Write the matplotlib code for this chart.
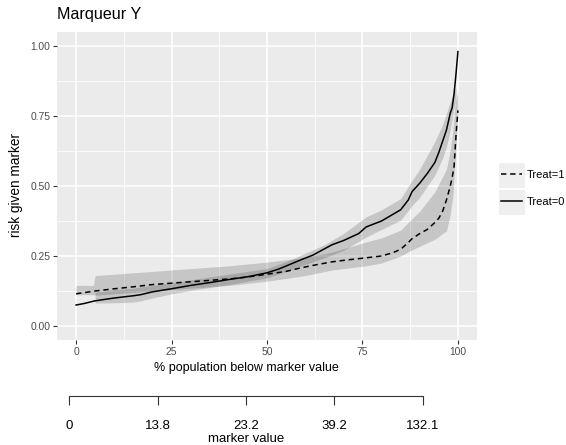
import matplotlib
matplotlib.use("Agg")
import matplotlib.pyplot as plt
from matplotlib.patches import Rectangle

plt.rcParams['font.family'] = ['Liberation Sans', 'DejaVu Sans']

# curves (x = % population below marker value)
x_t0 = [0, 2, 5, 10, 15, 17, 20, 25, 30, 35, 40, 45, 50, 53, 56, 59, 62, 67, 70,
        74, 76, 80, 85, 87, 88, 90, 92, 94, 95, 96, 97, 98, 98.5, 99, 99.5, 100]
risk_t0 = [0.075, 0.08, 0.09, 0.10, 0.108, 0.112, 0.122, 0.133, 0.145, 0.155,
           0.166, 0.176, 0.19, 0.203, 0.22, 0.237, 0.253, 0.29, 0.305, 0.33,
           0.354, 0.375, 0.415, 0.45, 0.48, 0.51, 0.545, 0.585, 0.62, 0.66,
           0.70, 0.76, 0.78, 0.83, 0.90, 0.98]

x_t1 = [0, 5, 10, 15, 20, 25, 30, 35, 40, 45, 50, 55, 59, 63, 67, 71, 75, 80,
        83, 85, 87, 88, 90, 92, 94, 95, 96, 97, 98, 98.5, 99, 99.5, 100]
risk_t1 = [0.115, 0.125, 0.133, 0.14, 0.148, 0.153, 0.158, 0.163, 0.168, 0.175,
           0.185, 0.195, 0.208, 0.219, 0.229, 0.236, 0.242, 0.25, 0.262, 0.274,
           0.298, 0.312, 0.33, 0.345, 0.37, 0.385, 0.41, 0.45, 0.50, 0.53, 0.57,
           0.68, 0.77]

# confidence bands
band_x_t0 = [5, 10, 15, 17, 20, 25, 30, 40, 50, 55, 60, 65, 70, 76, 80, 85,
             88, 90, 92, 94, 96, 97, 98, 99, 99.5]
band_lo_t0 = [0.082, 0.083, 0.085, 0.09, 0.10, 0.115, 0.127, 0.148, 0.172, 0.195,
              0.22, 0.243, 0.27, 0.318, 0.345, 0.378, 0.43, 0.46, 0.50, 0.54,
              0.60, 0.64, 0.70, 0.78, 0.82]
band_hi_t0 = [0.12, 0.13, 0.135, 0.14, 0.145, 0.155, 0.165, 0.185, 0.205, 0.23,
              0.26, 0.29, 0.33, 0.39, 0.415, 0.455, 0.52, 0.56, 0.61, 0.66,
              0.72, 0.76, 0.80, 0.84, 0.85]

band_x_t1 = [0, 4.5, 5, 10, 20, 30, 40, 50, 60, 67, 76, 80, 85, 87, 90, 94, 97,
             98, 98.7, 99.3, 100]
band_lo_t1 = [0.112, 0.112, 0.11, 0.115, 0.125, 0.135, 0.145, 0.16, 0.18, 0.2,
              0.215, 0.225, 0.25, 0.265, 0.285, 0.31, 0.34, 0.40, 0.47, 0.60, 0.76]
band_hi_t1 = [0.145, 0.145, 0.18, 0.185, 0.195, 0.205, 0.215, 0.228, 0.245, 0.264,
              0.30, 0.315, 0.342, 0.37, 0.41, 0.48, 0.56, 0.63, 0.70, 0.80, 0.84]

pct_ticks = [0, 25, 50, 75, 100]
risk_ticks = [0.0, 0.25, 0.5, 0.75, 1.0]
marker_labels = ["0", "13.8", "23.2", "39.2", "132.1"]

W, H = 566, 445
fig = plt.figure(figsize=(W / 100, H / 100), dpi=100)

# main panel
ax = fig.add_axes([57 / W, 1 - 340 / H, (477 - 57) / W, (340 - 32) / H])
ax.set_facecolor('#EBEBEB')
for s in ax.spines.values():
    s.set_visible(False)
ax.set_xlim(-5, 105)
ax.set_ylim(-0.05, 1.05)
ax.set_xticks(pct_ticks)
ax.set_xticks([12.5, 37.5, 62.5, 87.5], minor=True)
ax.set_yticks(risk_ticks)
ax.set_yticks([0.125, 0.375, 0.625, 0.875], minor=True)
ax.set_yticklabels(['%.2f' % v for v in risk_ticks])
ax.grid(which='major', color='white', lw=1.1)
ax.grid(which='minor', color='white', lw=0.55)
ax.set_axisbelow(True)
ax.tick_params(which='major', length=2.9, width=0.8, color='#333333',
               labelsize=7.4, labelcolor='#4D4D4D', pad=2)
ax.tick_params(which='minor', length=0)

ax.fill_between(band_x_t1, band_lo_t1, band_hi_t1, color='#333333', alpha=0.2, lw=0)
ax.fill_between(band_x_t0, band_lo_t0, band_hi_t0, color='#333333', alpha=0.2, lw=0)
l1, = ax.plot(x_t1, risk_t1, color='black', lw=1.1, linestyle=(0, (3.5, 2.5)),
              label='Treat=1')
l0, = ax.plot(x_t0, risk_t0, color='black', lw=1.1, label='Treat=0')

fig.text(57 / W, 1 - 15 / H, 'Marqueur Y', fontsize=11.6, ha='left', va='center')
fig.text(246 / W, 1 - 368 / H, '% population below marker value', fontsize=9,
         ha='center', va='center')
fig.text(16 / W, 1 - 185 / H, 'risk given marker', fontsize=9.8, rotation=90,
         ha='center', va='center')

# legend keys
for ky in (162, 189):
    fig.add_artist(Rectangle((498 / W, 1 - (ky + 26) / H), 27 / W, 26 / H,
                             transform=fig.transFigure, facecolor='#EFEFEF',
                             edgecolor='white', lw=0.8, zorder=0))
fig.legend(handles=[l1, l0], loc='upper left',
           bbox_to_anchor=(501 / W, 1 - 170 / H), frameon=False,
           fontsize=8, handlelength=1.85, handletextpad=0.45,
           labelspacing=1.5, borderpad=0, borderaxespad=0)

# marker value axis
ax2 = fig.add_axes([69.3 / W, 1 - 396 / H, (422.7 - 69.3) / W, 0.001])
ax2.set_facecolor('none')
for k in ('top', 'left', 'right'):
    ax2.spines[k].set_visible(False)
ax2.spines['bottom'].set_color('#333333')
ax2.spines['bottom'].set_linewidth(0.8)
ax2.set_xlim(0, len(marker_labels) - 1)
ax2.set_xticks(range(len(marker_labels)))
ax2.set_xticklabels(marker_labels)
ax2.set_yticks([])
ax2.tick_params(axis='x', length=6.5, width=0.8, color='#333333',
                labelsize=9.5, pad=11)
fig.text(246 / W, 1 - 439 / H, 'marker value', fontsize=9.5, ha='center',
         va='center')

fig.savefig('out.png', dpi=100)
